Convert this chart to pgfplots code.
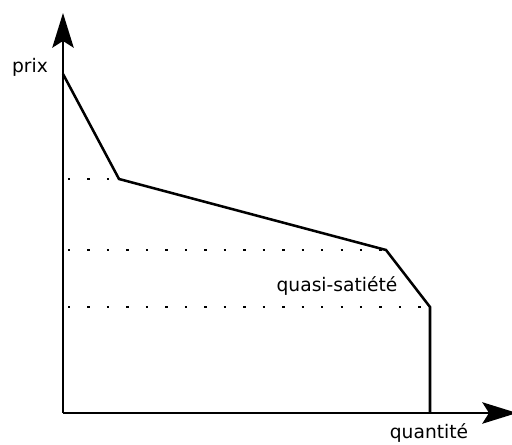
\documentclass[border=0pt]{standalone}
\usepackage{fontspec}
\setmainfont{DejaVu Sans}
\usepackage{pgfplots}
\pgfplotsset{compat=1.18}
\usetikzlibrary{arrows.meta}

\begin{document}
\begin{tikzpicture}
\begin{axis}[
    x=0.75pt, y=0.75pt,
    xmin=-63, xmax=449, ymin=-32, ymax=413,
    hide axis, clip=false,
    every axis plot/.append style={line width=1.9pt, black},
]
% axes
\addplot[-{Stealth[length=26pt, width=16pt, inset=5pt]}] coordinates {(0,0) (454,0)};
\addplot[-{Stealth[length=26pt, width=16pt, inset=5pt]}] coordinates {(0,0) (0,400)};
% demand curve
\addplot[line join=miter] coordinates {(0,339) (56,234) (323,163) (367,106) (367,0)};
% dotted guides
\addplot[line width=1.8pt, dash pattern=on 1.8pt off 12.8pt] coordinates {(5,234) (56,234)};
\addplot[line width=1.8pt, dash pattern=on 1.8pt off 12.8pt] coordinates {(5,163) (323,163)};
\addplot[line width=1.8pt, dash pattern=on 1.8pt off 12.8pt] coordinates {(5,106) (367,106)};
\node[font=\fontsize{14}{17}\selectfont] at (axis cs:-33,346) {prix};
\node[font=\fontsize{14}{17}\selectfont] at (axis cs:366,-20) {quantité};
\node[font=\fontsize{14}{17}\selectfont] at (axis cs:274,127) {quasi-satiété};
\coordinate (bl) at (axis cs:-63,-32);
\coordinate (tr) at (axis cs:449,413);
\end{axis}
\pgfresetboundingbox
\path[use as bounding box] (bl) rectangle (tr);
\end{tikzpicture}
\end{document}
